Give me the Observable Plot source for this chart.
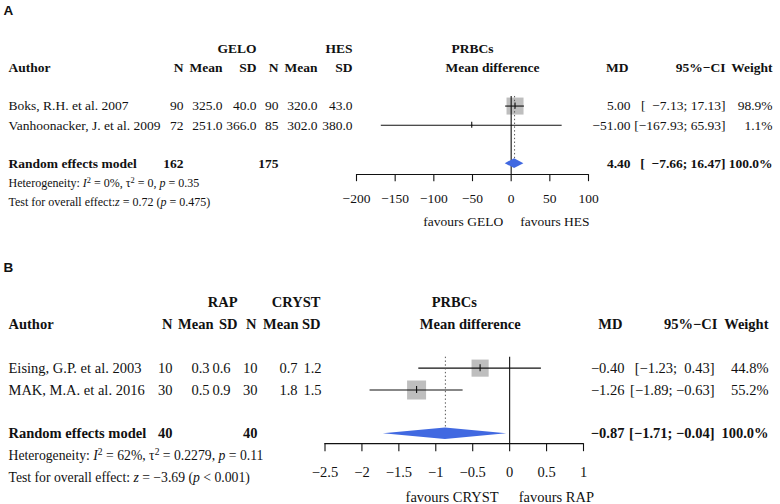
<!DOCTYPE html>
<html>
<head>
<meta charset="utf-8">
<script src="https://cdn.jsdelivr.net/npm/d3@7"></script>
<script src="https://cdn.jsdelivr.net/npm/@observablehq/plot@0.6"></script>
<style>
  body { margin: 0; background: #fff; }
  svg { display: block; }
</style>
</head>
<body>
<div id="chart"></div>
<script>
// ---------- Panel A data ----------
const authorsA = ["Boks, R.H. et al. 2007", "Vanhoonacker, J. et al. 2009"];
const nGeloA = [90, 72];
const meanGeloA = ["325.0", "251.0"];
const sdGeloA = ["40.0", "366.0"];
const nHesA = [90, 85];
const meanHesA = ["320.0", "302.0"];
const sdHesA = ["43.0", "380.0"];
const mdA = [5.00, -51.00];
const lowerA = [-7.13, -167.93];
const upperA = [17.13, 65.93];
const weightA = [98.9, 1.1];
const pooledA = [4.40, -7.66, 16.47];      // MD, lower, upper
const totalNA = [162, 175];
const groupsA = ["GELO", "HES"];
const favoursA = ["favours GELO", "favours HES"];
const ticksA = [-200, -150, -100, -50, 0, 50, 100];
const tickLabelsA = ["−200", "−150", "−100", "−50", "0", "50", "100"];
const hetA = ["0%", "0", "0.35"];          // I², tau², p
const testA = ["0.72", "= 0.475"];         // z, p

// ---------- Panel B data ----------
const authorsB = ["Eising, G.P. et al. 2003", "MAK, M.A. et al. 2016"];
const nRapB = [10, 30];
const meanRapB = ["0.3", "0.5"];
const sdRapB = ["0.6", "0.9"];
const nCrystB = [10, 30];
const meanCrystB = ["0.7", "1.8"];
const sdCrystB = ["1.2", "1.5"];
const mdB = [-0.40, -1.26];
const lowerB = [-1.23, -1.89];
const upperB = [0.43, -0.63];
const weightB = [44.8, 55.2];
const pooledB = [-0.87, -1.71, -0.04];
const totalNB = [40, 40];
const groupsB = ["RAP", "CRYST"];
const favoursB = ["favours CRYST", "favours RAP"];
const ticksB = [-2.5, -2, -1.5, -1, -0.5, 0, 0.5, 1];
const tickLabelsB = ["−2.5", "−2", "−1.5", "−1", "−0.5", "0", "0.5", "1"];
const hetB = ["62%", "0.2279", "0.11"];
const testB = ["−3.69", "< 0.001"];

const outcome = "PRBCs";
const modelLabel = "Random effects model";

// ---------- layout (positions / styles) ----------
const layoutA = {
  letter: "A", height: 252, xDomain: [-200, 100], xRange: [356, 588], yRange: [48, 201.5],
  axisRow: 6.57, tickLen: 0.37, tickDy: 24, favDy: 47, favGap: [8, 9],
  fs: 13.5, fsSmall: 12, rMax: 9.65, letterBase: 14, testSep: ":",
  cAuthor: 8, cN1: 183, cM1: 222, cS1: 256, cN2: 278, cM2: 317, cS2: 352,
  hN1: 183, hM1: 222, hS1: 256, hN2: 278, hM2: 317, hS2: 352,
  g1: 256, g2: 352, cMD: 630, hMD: 628, cCI: 725, hCI: 725, cW: 772, hW: 772, mdDx: 20
};
const layoutB = {
  letter: "B", height: 252, xDomain: [-2.5, 1], xRange: [324.5, 583], yRange: [50, 225],
  axisRow: 6.45, tickLen: 0.37, tickDy: 28.5, favDy: 54, favGap: [11, 9],
  fs: 14.5, fsSmall: 13.7, rMax: 14.43, letterBase: 19, testSep: ": ",
  cAuthor: 8, cN1: 172, cM1: 209, cS1: 230, cN2: 257, cM2: 297, cS2: 321,
  hN1: 172, hM1: 213, hS1: 237, hN2: 256, hM2: 298, hS2: 320,
  g1: 237, g2: 320, cMD: 624, hMD: 622, cCI: 714, hCI: 717, cW: 768, hW: 768, mdDx: 16
};

const fmt2 = v => (v < 0 ? "\u2212" : "") + Math.abs(v).toFixed(2);
const padL = (s, n) => "\u00a0".repeat(Math.max(0, n - s.length)) + s;

function forest(P, L) {
  const k = P.authors.length;
  const loS = [...P.lo, P.pool[1]].map(fmt2);
  const hiS = [...P.hi, P.pool[2]].map(fmt2);
  const lw = d3.max(loS, s => s.length), hw = d3.max(hiS, s => s.length);
  const ci = loS.map((s, i) => "[" + padL(s, lw) + "; " + padL(hiS[i], hw) + "]");
  const studies = P.authors.map((author, i) => ({
    row: 3 + i, author, n1: P.n1[i], m1: P.m1[i], s1: P.s1[i], n2: P.n2[i], m2: P.m2[i], s2: P.s2[i],
    md: P.md[i], lo: P.lo[i], hi: P.hi[i], w: P.w[i],
    mdS: fmt2(P.md[i]), ci: ci[i], wS: P.w[i].toFixed(1) + "%"
  }));
  const poolRow = 3 + k + 1;
  const pooled = [{row: poolRow, label: modelLabel, n1: P.totalN[0], n2: P.totalN[1],
                   mdS: fmt2(P.pool[0]), ci: ci[k], wS: "100.0%"}];
  const dh = 0.26;
  const diamond = [
    {x: P.pool[1], y1: poolRow, y2: poolRow},
    {x: P.pool[0], y1: poolRow - dh, y2: poolRow + dh},
    {x: P.pool[2], y1: poolRow, y2: poolRow}
  ];
  const xMid = (L.xDomain[0] + L.xDomain[1]) / 2;
  const hetParts = [["Heterogeneity: ", 0], ["I", "i"], ["2", "s"], [" = " + P.het[0] + ", τ", 0], ["2", "s"],
                    [" = " + P.het[1] + ", ", 0], ["p", "i"], [" = " + P.het[2], 0]];
  const testParts = [["Test for overall effect" + L.testSep, 0], ["z", "i"], [" = " + P.test[0] + " (", 0],
                     ["p", "i"], [" " + P.test[1] + ")", 0]];
  const plain = parts => parts.map(p => p[0]).join("").replace("I2", "I²").replace("τ2", "τ²");

  const T = (data, o) => Plot.text(data, {frameAnchor: "left", fill: "#111", fontSize: L.fs, ...o});
  const B = (data, o) => T(data, {fontWeight: "bold", ...o});
  const hdr0 = [{row: 0}], hdr1 = [{row: 1}];

  const marks = [
    // panel letter
    Plot.text([L.letter], {frameAnchor: "top-left", lineAnchor: "bottom", dx: 3, dy: L.letterBase,
      fontFamily: "Liberation Sans, Arial, sans-serif", fontWeight: "bold", fontSize: 13.5, textAnchor: "start", fill: "#111"}),
    // group headers
    B(hdr0, {y: "row", text: () => P.groups[0], dx: L.g1, textAnchor: "end"}),
    B(hdr0, {y: "row", text: () => P.groups[1], dx: L.g2, textAnchor: "end"}),
    Plot.text(hdr0, {y: "row", x: xMid, text: () => outcome, fontWeight: "bold", fontSize: L.fs, fill: "#111"}),
    // column headers
    B(hdr1, {y: "row", text: () => "Author", dx: L.cAuthor, textAnchor: "start"}),
    B(hdr1, {y: "row", text: () => "N", dx: L.hN1, textAnchor: "end"}),
    B(hdr1, {y: "row", text: () => "Mean", dx: L.hM1, textAnchor: "end"}),
    B(hdr1, {y: "row", text: () => "SD", dx: L.hS1, textAnchor: "end"}),
    B(hdr1, {y: "row", text: () => "N", dx: L.hN2, textAnchor: "end"}),
    B(hdr1, {y: "row", text: () => "Mean", dx: L.hM2, textAnchor: "end"}),
    B(hdr1, {y: "row", text: () => "SD", dx: L.hS2, textAnchor: "end"}),
    Plot.text(hdr1, {y: "row", x: xMid, dx: L.mdDx, text: () => "Mean difference", fontWeight: "bold", fontSize: L.fs, fill: "#111"}),
    B(hdr1, {y: "row", text: () => "MD", dx: L.hMD, textAnchor: "end"}),
    B(hdr1, {y: "row", text: () => "95%\u2212CI", dx: L.hCI, textAnchor: "end"}),
    B(hdr1, {y: "row", text: () => "Weight", dx: L.hW, textAnchor: "end"}),
    // study rows
    T(studies, {y: "row", text: "author", dx: L.cAuthor, textAnchor: "start"}),
    T(studies, {y: "row", text: "n1", dx: L.cN1, textAnchor: "end"}),
    T(studies, {y: "row", text: "m1", dx: L.cM1, textAnchor: "end"}),
    T(studies, {y: "row", text: "s1", dx: L.cS1, textAnchor: "end"}),
    T(studies, {y: "row", text: "n2", dx: L.cN2, textAnchor: "end"}),
    T(studies, {y: "row", text: "m2", dx: L.cM2, textAnchor: "end"}),
    T(studies, {y: "row", text: "s2", dx: L.cS2, textAnchor: "end"}),
    T(studies, {y: "row", text: "mdS", dx: L.cMD, textAnchor: "end"}),
    T(studies, {y: "row", text: "ci", dx: L.cCI, textAnchor: "end"}),
    T(studies, {y: "row", text: "wS", dx: L.cW, textAnchor: "end"}),
    // pooled row
    B(pooled, {y: "row", text: "label", dx: L.cAuthor, textAnchor: "start"}),
    B(pooled, {y: "row", text: "n1", dx: L.cN1, textAnchor: "end"}),
    B(pooled, {y: "row", text: "n2", dx: L.cN2, textAnchor: "end"}),
    B(pooled, {y: "row", text: "mdS", dx: L.cMD, textAnchor: "end"}),
    B(pooled, {y: "row", text: "ci", dx: L.cCI, textAnchor: "end"}),
    B(pooled, {y: "row", text: "wS", dx: L.cW, textAnchor: "end"}),
    // heterogeneity & test
    T([{row: poolRow + 1}], {y: "row", text: () => plain(hetParts), dx: L.cAuthor, textAnchor: "start", fontSize: L.fsSmall}),
    T([{row: poolRow + 2}], {y: "row", text: () => plain(testParts), dx: L.cAuthor, textAnchor: "start", fontSize: L.fsSmall}),
    // graph: boxes, CIs
    Plot.dot(studies, {x: "md", y: "row", r: "w", symbol: "square", fill: "#bebebe", stroke: null}),
    Plot.ruleY(studies, {y: "row", x1: "lo", x2: "hi", stroke: "#111", strokeWidth: 1.1}),
    Plot.ruleX(studies, {x: "md", y1: d => d.row - 0.16, y2: d => d.row + 0.16, stroke: "#111", strokeWidth: 1.1}),
    // reference line at 0 and pooled dotted line
    Plot.ruleX([0], {y1: 2.5, y2: L.axisRow, stroke: "#111", strokeWidth: 1.1}),
    Plot.ruleX([P.pool[0]], {y1: 2.5, y2: poolRow - dh, stroke: "#555", strokeWidth: 1, strokeDasharray: "1.4,2.4"}),
    // diamond
    Plot.areaY(diamond, {x: "x", y1: "y1", y2: "y2", fill: "#4169e1"}),
    // axis
    Plot.ruleY([L.axisRow], {x1: P.ticks[0], x2: P.ticks[P.ticks.length - 1], stroke: "#111", strokeWidth: 1.1}),
    Plot.ruleX(P.ticks, {x: d => d, y1: L.axisRow, y2: L.axisRow + L.tickLen, stroke: "#111", strokeWidth: 1.1}),
    Plot.text(P.ticks, {x: d => d, y: L.axisRow, dy: L.tickDy, text: (d, i) => P.tickLabels[i], fontSize: L.fs, fill: "#111"}),
    Plot.text([P.fav[0]], {x: 0, y: L.axisRow, dy: L.favDy, dx: -L.favGap[0], text: d => d, textAnchor: "end", fontSize: L.fs, fill: "#111"}),
    Plot.text([P.fav[1]], {x: 0, y: L.axisRow, dy: L.favDy, dx: L.favGap[1], text: d => d, textAnchor: "start", fontSize: L.fs, fill: "#111"})
  ];

  const svg = Plot.plot({
    width: 780, height: L.height,
    marginTop: 0, marginRight: 0, marginBottom: 0, marginLeft: 0,
    x: {domain: L.xDomain, range: L.xRange, axis: null},
    y: {domain: [0, 8], range: L.yRange, axis: null},
    r: {domain: [0, 100], range: [0, L.rMax]},
    style: {fontFamily: "Liberation Serif, 'Times New Roman', serif", fontSize: L.fs + "px", background: "#fff", overflow: "visible"},
    marks
  });

  // rich text (italic symbols, superscripts) for the statistics lines
  const NS = "http://www.w3.org/2000/svg";
  const rich = (el, parts) => {
    while (el.firstChild) el.removeChild(el.firstChild);
    for (const [t, s] of parts) {
      const ts = document.createElementNS(NS, "tspan");
      ts.textContent = t;
      if (s === "i") ts.setAttribute("font-style", "italic");
      if (s === "s") { ts.setAttribute("baseline-shift", "super"); ts.setAttribute("font-size", "0.7em"); }
      el.appendChild(ts);
    }
  };
  svg.querySelectorAll("text").forEach(el => {
    const t = el.textContent;
    if (t.startsWith("Heterogeneity")) rich(el, hetParts);
    else if (t.startsWith("Test for overall")) rich(el, testParts);
  });
  return svg;
}

const panelA = {
  authors: authorsA, n1: nGeloA, m1: meanGeloA, s1: sdGeloA, n2: nHesA, m2: meanHesA, s2: sdHesA,
  md: mdA, lo: lowerA, hi: upperA, w: weightA, pool: pooledA, totalN: totalNA, groups: groupsA,
  fav: favoursA, ticks: ticksA, tickLabels: tickLabelsA, het: hetA, test: testA
};
const panelB = {
  authors: authorsB, n1: nRapB, m1: meanRapB, s1: sdRapB, n2: nCrystB, m2: meanCrystB, s2: sdCrystB,
  md: mdB, lo: lowerB, hi: upperB, w: weightB, pool: pooledB, totalN: totalNB, groups: groupsB,
  fav: favoursB, ticks: ticksB, tickLabels: tickLabelsB, het: hetB, test: testB
};

const root = document.getElementById("chart");
root.appendChild(forest(panelA, layoutA));
root.appendChild(forest(panelB, layoutB));
</script>
</body>
</html>
